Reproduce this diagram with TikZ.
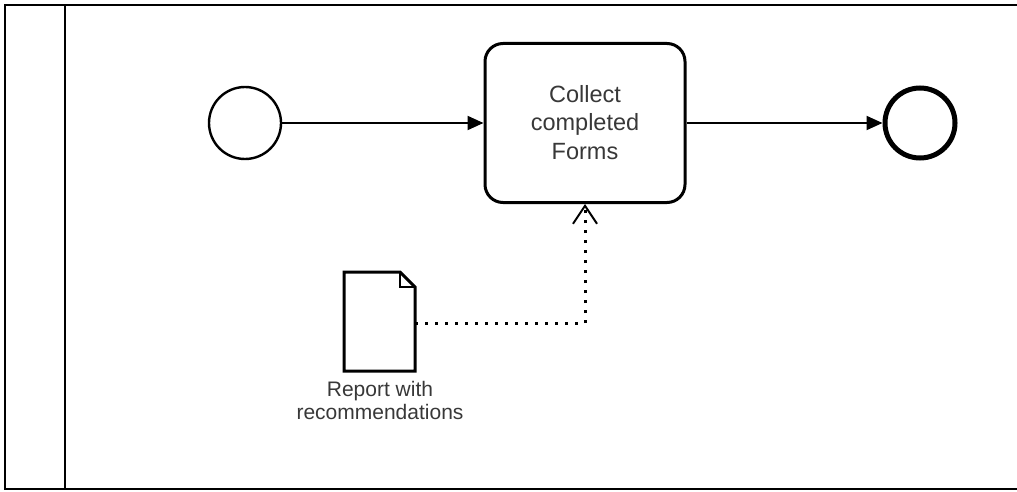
\documentclass[tikz,border=0pt]{standalone}
\usepackage{fontspec}
\setmainfont{Liberation Sans}
\usetikzlibrary{arrows.meta}
\definecolor{labelgray}{HTML}{383838}
\tikzset{
  flow/.style={line width=2pt, -{Triangle[length=16pt,width=14pt]}},
  assoc/.style={line width=3pt, dash pattern=on 3pt off 7pt,
    -{Straight Barb[length=18pt,width=24pt,line width=2pt]}},
  startev/.style={circle, draw, line width=2.4pt, minimum size=72pt, inner sep=0pt, fill=white},
  endev/.style={circle, draw, line width=5pt, minimum size=70pt, inner sep=0pt, fill=white},
  taskbox/.style={draw, rounded corners=18pt, line width=3pt, minimum width=200pt,
    minimum height=159pt},
  tasktext/.style={align=center, text=labelgray, font=\fontsize{23.5}{28.5}\selectfont},
  doclabel/.style={align=center, text=labelgray, font=\fontsize{21}{23.5}\selectfont}
}
\begin{document}
\begin{tikzpicture}[x=1pt,y=-1pt]
  \useasboundingbox (0,0) rectangle (1017,492);
  % pool frame and lane header separator
  \draw[line width=2.6pt] (1020,5) -- (5,5) -- (5,489) -- (1020,489);
  \draw[line width=2.6pt] (65,5) -- (65,489);

  % events and task
  \node[startev] (start) at (245,123) {};
  \node[taskbox] (task) at (585,123) {};
  \node[tasktext] (tasklbl) at (585,122.5) {Collect\\completed\\Forms};
  \node[endev] (end) at (920,123) {};

  % data object with folded corner
  \draw[line width=3pt, line join=miter, fill=white]
    (344,272) -- (400,272) -- (415,287) -- (415,371) -- (344,371) -- cycle;
  \draw[line width=2pt] (400,272) -- (400,287) -- (415,287);
  \coordinate (docout) at (415,323);
  \node[doclabel] (doclbl) at (380,400.5) {Report with\\recommendations};

  % sequence flows
  \draw[flow] (start) -- (task);
  \draw[flow] (task) -- (end);

  % data association
  \draw[assoc] (docout) -| (task.south);
\end{tikzpicture}
\end{document}
